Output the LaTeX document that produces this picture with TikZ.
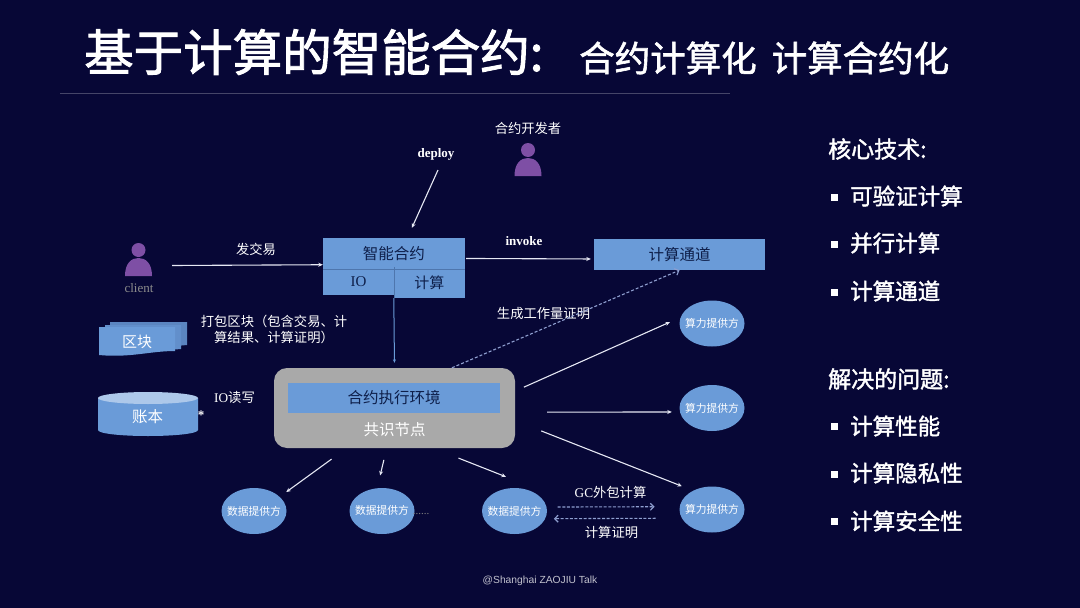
\documentclass[tikz,border=0pt]{standalone}
\usepackage{fontspec}
\setmainfont{Liberation Serif}
\newfontfamily\cjk{Noto Sans CJK SC}
\newfontfamily\cjkm[FakeBold=1.7]{Noto Sans CJK SC}
\newfontfamily\cjkt[FakeBold=1.8]{Noto Sans CJK SC}
\newfontfamily\ftsans{Liberation Sans}
\usetikzlibrary{arrows.meta,shapes.geometric,calc}
\definecolor{bgc}{HTML}{070736}
\definecolor{boxc}{HTML}{6A9BD8}
\definecolor{inkc}{HTML}{0E1F4A}
\definecolor{greyc}{HTML}{A9A9A9}
\definecolor{purp}{HTML}{7E4FA5}
\definecolor{dashc}{HTML}{8F9FD0}
\definecolor{linec}{HTML}{E6E8F4}
\newcommand{\fs}[1]{\fontsize{#1}{#1}\selectfont}
\newcommand{\ovaltext}[1]{\makebox[0pt]{#1}}
\tikzset{
  x=1pt,y=-1pt,
  lbl/.style={text=white,inner sep=0pt,font=\cjk\fs{13.3}},
  boxn/.style={fill=boxc,text=inkc,inner sep=0pt,font=\cjk\fs{15.5}},
  oval/.style={ellipse,fill=boxc,text=white,inner sep=0pt,minimum width=65pt,minimum height=46pt,font=\cjk\fs{10.8}},
  arr/.style={draw=linec,line width=1.1pt,-{Stealth[length=4.5pt,width=4pt]}},
  dasharr/.style={draw=dashc,line width=1.1pt,dash pattern=on 3pt off 1.6pt,-{Straight Barb[length=3.5pt,width=7pt]}},
  head/.style={font=\cjkm\fs{22.5},text=white,inner sep=0pt,anchor=west},
  bul/.style={fill=white,minimum size=7pt,inner sep=0pt},
}
\newcommand{\person}[2]{%
  \fill[purp] (#1,#2) circle[radius=7];
  \fill[purp] (#1-13.5,#2+26) .. controls (#1-13.5,#2+13) and (#1-7,#2+8) .. (#1,#2+8) .. controls (#1+7,#2+8) and (#1+13.5,#2+13) .. (#1+13.5,#2+26) -- cycle;}
\begin{document}
\begin{tikzpicture}
\useasboundingbox (0,0) rectangle (1080,608);
\fill[bgc] (0,0) rectangle (1080,608);
% title
\node[text=white,inner sep=0pt,anchor=west,font=\cjkt\fs{49.5}] (title) at (84,52) {基于计算的智能合约:};
\node[text=white,inner sep=0pt,anchor=west,font=\cjkm\fs{35.5}] (sub) at (579,58) {合约计算化\hspace{15pt}计算合约化};
\draw[draw=white,opacity=.25,line width=.6pt] (60,93) -- (730,93);
% people
\person{138.5}{250}
\person{528}{150}
\node[text=gray!90!white,inner sep=0pt,font=\fs{13}] (clientl) at (139,288) {client};
\node[lbl] (devl) at (528,128) {合约开发者};
\node[text=white,inner sep=0pt,font=\bfseries\fs{13}] (deployl) at (436,154) {deploy};
\node[text=white,inner sep=0pt,font=\bfseries\fs{13}] (invokel) at (524,241) {invoke};
\node[lbl] (sendl) at (256,249) {发交易};
% contract
\node[boxn,minimum width=141.5pt,minimum height=31pt] (sc) at (393.75,253.5) {智能合约};
\node[boxn,minimum width=71pt,minimum height=26pt,font=\fs{15}] (io) at (358.5,282) {IO};
\node[boxn,minimum width=70.5pt,minimum height=31pt,font=\cjk\fs{15}] (calc) at (429.25,282.5) {计算};
\draw[inkc!30!boxc,line width=.6pt] (sc.south west) -- (sc.south east);
\draw[inkc!30!boxc,line width=.6pt] (calc.north west) -- (calc.south west);
\node[boxn,minimum width=171pt,minimum height=31pt] (chan) at (679.5,254.5) {计算通道};
% block stack
\fill[boxc!85!bgc] (110,322) -- (187,322) -- (187,345) -- (110,352) -- cycle;
\fill[boxc!92!bgc] (105,325) -- (181,325) -- (181,349) -- (105,355) -- cycle;
\fill[boxc] (99,327) -- (175,327) -- (175,351) .. controls (150,351) and (130,358) .. (99,355) -- cycle;
\node[text=white,inner sep=0pt,font=\cjk\fs{15}] (block) at (137,342) {区块};
\node[lbl,align=center] (packl) at (274,329.5) {打包区块（包含交易、计\\[3.5pt]算结果、计算证明）};
% ledger
\fill[boxc] (98,398) -- (98,430) .. controls (98,433.5) and (120,436) .. (148,436) .. controls (176,436) and (198,433.5) .. (198,430) -- (198,398) -- cycle;
\fill[boxc!55!white] (148,398) ellipse[x radius=50,y radius=6];
\node[text=white,inner sep=0pt,font=\cjk\fs{15.5}] (ledger) at (147.5,417) {账本};
\node[text=white,inner sep=0pt,font=\bfseries\fs{13}] (star) at (201,415) {*};
\node[text=white,inner sep=0pt,font=\fs{13.3}] (iol) at (234.5,397) {IO{\cjk 读写}};
% consensus node
\node[fill=greyc,rounded corners=13pt,minimum width=241pt,minimum height=80pt,inner sep=0pt] (grey) at (394.5,408) {};
\node[boxn,minimum width=212pt,minimum height=30pt] (env) at (394,398) {合约执行环境};
\node[text=white,inner sep=0pt,font=\cjk\fs{15.5}] (cons) at (394.5,430) {共识节点};
% ovals
\node[oval] (d1) at (254,511) {\ovaltext{数据提供方}};
\node[oval] (d2) at (382,511) {\raisebox{2pt}{\ovaltext{数据提供方}}};
\node[oval] (d3) at (514.5,511) {\raisebox{1pt}{\ovaltext{数据提供方}}};
\node[oval] (c1) at (712,323.5) {\ovaltext{算力提供方}};
\node[oval] (c2) at (712,408) {\ovaltext{算力提供方}};
\node[oval] (c3) at (712,509.5) {\ovaltext{算力提供方}};
\node[text=gray,inner sep=0pt,font=\fs{11}] (dots) at (421,514) {......};
% labels
\node[lbl] (workl) at (543.5,313) {生成工作量证明};
\node[text=white,inner sep=0pt,font=\fs{13.3}] (gcl) at (610.5,492) {GC{\cjk 外包计算}};
\node[lbl] (proofl) at (611.5,532) {计算证明};
\node[text=white!75!bgc,inner sep=0pt,font=\ftsans\fs{10.3}] (foot) at (540,581) {@Shanghai ZAOJIU Talk};
% connectors
\coordinate (clientout) at (172,265.5);
\coordinate (deployout) at (438,170);
\coordinate (d3in) at ($(d3.north)+(-8.5,-11)$);
\draw[arr] (clientout) -- (sc.189.2);
\draw[arr,shorten >=11pt] (deployout) -- (sc.49.5);
\draw[arr,shorten <=1.5pt,shorten >=3pt] (sc.-4.4) -- (chan.183);
\draw[draw=boxc,line width=1pt,shorten >=5pt,-{Stealth[length=3.5pt,width=3pt]}] (calc.south west) -- (grey.north);
\draw[dasharr,dash pattern=on 3pt off 2pt] (grey.35.8) -- (chan.south);
\draw[arr,shorten <=9.5pt,shorten >=11.5pt] (grey.8.5) -- (c1.169);
\draw[arr,shorten <=32pt,shorten >=8pt] (grey.-2) -- (c2.187);
\draw[arr,shorten <=28pt,shorten >=12pt] (grey.-6) -- (c3.135.8);
\draw[arr,shorten <=18.6pt,shorten >=8pt] (grey.220.1) -- (d1.29.2);
\draw[arr,shorten <=12pt,shorten >=13pt] (grey.259.4) -- (d2.102);
\draw[arr,shorten <=27pt] (grey.-46) -- (d3in);
\draw[dasharr,shorten <=11pt,shorten >=25pt] (d3.7) -- (c3.175.5);
\draw[dasharr,shorten <=26pt,shorten >=8.5pt] (c3.196.8) -- (d3.-14.5);
% right panel
\node[head,font=\cjkm\fs{23}] (h1) at (828,149) {核心技术:};
\node[bul] (b1) at (834,197) {};
\node[head] (t1) at (850,196) {可验证计算};
\node[bul] (b2) at (834,244) {};
\node[head] (t2) at (850,243) {并行计算};
\node[bul] (b3) at (834,292) {};
\node[head] (t3) at (850,291) {计算通道};
\node[head,font=\cjkm\fs{23}] (h2) at (828,379) {解决的问题:};
\node[bul] (b4) at (834,426) {};
\node[head] (t4) at (850,426) {计算性能};
\node[bul] (b5) at (834,474) {};
\node[head] (t5) at (850,473) {计算隐私性};
\node[bul] (b6) at (834,521) {};
\node[head] (t6) at (850,521) {计算安全性};
\end{tikzpicture}
\end{document}
